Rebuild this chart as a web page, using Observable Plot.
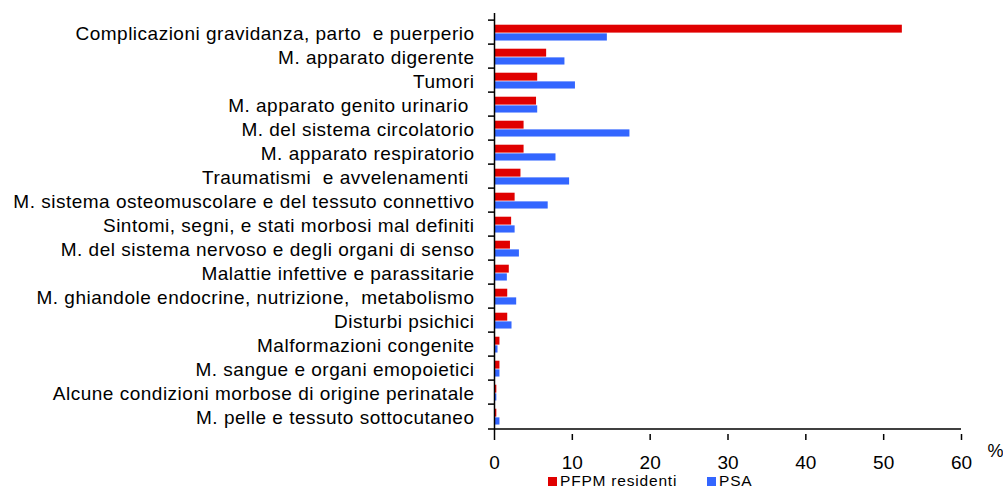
<!DOCTYPE html>
<html>
<head>
<meta charset="utf-8">
<script src="https://cdn.jsdelivr.net/npm/d3@7"></script>
<script src="https://cdn.jsdelivr.net/npm/@observablehq/plot@0.6"></script>
<style>
  html, body { margin: 0; padding: 0; background: #fff; }
  body { width: 1003px; height: 488px; overflow: hidden; font-family: "Liberation Sans", Arial, sans-serif; }
  #chart svg { display: block; }
  #legend { position: relative; height: 12px; font-size: 15.5px; line-height: 16px; color: #000; }
  #legend span.item { position: absolute; top: -3px; white-space: nowrap; letter-spacing: 0.8px; }
  #legend span.sw { display: inline-block; width: 9px; height: 9px; margin-right: 3px; }
</style>
</head>
<body>
<div id="chart"></div>
<div id="legend"></div>
<script>
const categories = [
  "Complicazioni gravidanza, parto  e puerperio",
  "M. apparato digerente",
  "Tumori",
  "M. apparato genito urinario ",
  "M. del sistema circolatorio",
  "M. apparato respiratorio",
  "Traumatismi  e avvelenamenti ",
  "M. sistema osteomuscolare e del tessuto connettivo",
  "Sintomi, segni, e stati morbosi mal definiti",
  "M. del sistema nervoso e degli organi di senso",
  "Malattie infettive e parassitarie",
  "M. ghiandole endocrine, nutrizione,  metabolismo",
  "Disturbi psichici",
  "Malformazioni congenite",
  "M. sangue e organi emopoietici",
  "Alcune condizioni morbose di origine perinatale",
  "M. pelle e tessuto sottocutaneo"
];
const pfpm = [52.4, 6.7, 5.55, 5.4, 3.8, 3.8, 3.4, 2.65, 2.2, 2.05, 1.9, 1.7, 1.7, 0.7, 0.7, 0.3, 0.3];
const psa  = [14.5, 9.05, 10.4, 5.55, 17.4, 7.9, 9.65, 6.9, 2.65, 3.2, 1.65, 2.85, 2.25, 0.45, 0.7, 0.3, 0.7];
const seriesNames = ["PFPM residenti", "PSA"];
const seriesColors = ["#e00000", "#3366ff"];
const xTicks = [0, 10, 20, 30, 40, 50, 60];

const rowsA = categories.map((c, i) => ({cat: c, value: pfpm[i]}));
const rowsB = categories.map((c, i) => ({cat: c, value: psa[i]}));

const W = 1003, H = 476;
const mT = 13, mB = 42, mL = 494, mR = 42;
const band = (H - mT - mB) / categories.length;

const chart = Plot.plot({
  width: W,
  height: H,
  marginTop: mT,
  marginBottom: mB,
  marginLeft: mL,
  marginRight: mR,
  style: {fontFamily: "'Liberation Sans', Arial, sans-serif", fontSize: "19px", color: "#000", background: "#fff"},
  x: {domain: [0, 60], ticks: xTicks},
  y: {domain: categories, padding: 0},
  marks: [
    Plot.barX(rowsA, {y: "cat", x: "value", fill: seriesColors[0], insetTop: band * 0.19, insetBottom: band * 0.46}),
    Plot.barX(rowsB, {y: "cat", x: "value", fill: seriesColors[1], insetTop: band * 0.54, insetBottom: band * 0.14}),
    Plot.ruleX([0], {stroke: "#000", strokeWidth: 1.5}),
    Plot.ruleY([categories[categories.length - 1]], {dy: band / 2, insetLeft: -6, stroke: "#000", strokeWidth: 1.5}),
    Plot.axisY({tickSize: 6, text: null, dy: -band / 2, stroke: "#000", strokeWidth: 1.5, label: null}),
    Plot.axisY({tickSize: 0, tickPadding: 20, dy: 1.5, label: null, fill: "#000", fontSize: 19}),
    Plot.axisX({ticks: xTicks, tickSize: 6, tickPadding: 15, label: null, stroke: "#000", strokeWidth: 1.5, fill: "#000", fontSize: 19}),
    Plot.text(["%"], {frameAnchor: "bottom-right", dx: 34, dy: 22, fontSize: 18, fill: "#000", textAnchor: "middle"})
  ]
});
document.getElementById("chart").appendChild(chart);
d3.select(chart).selectAll("g[aria-label='y-axis tick label'] text").style("letter-spacing", "0.5px");

const leg = document.getElementById("legend");
const legX = [548, 707];
seriesNames.forEach((n, i) => {
  const s = document.createElement("span");
  s.className = "item";
  s.style.left = legX[i] + "px";
  const sw = document.createElement("span");
  sw.className = "sw";
  sw.style.background = seriesColors[i];
  s.appendChild(sw);
  s.appendChild(document.createTextNode(n));
  leg.appendChild(s);
});
</script>
</body>
</html>
